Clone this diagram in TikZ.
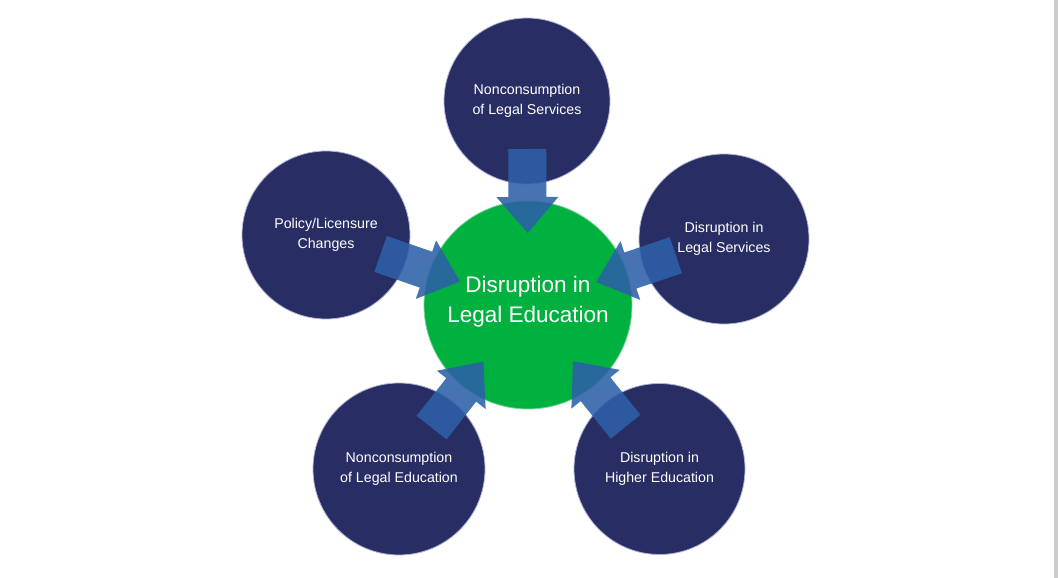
\documentclass[tikz,border=0pt]{standalone}
\usepackage{fontspec}
\setmainfont{Liberation Sans}
\usetikzlibrary{calc}
\definecolor{navy}{RGB}{40,46,100}
\definecolor{navyedge}{RGB}{175,180,215}
\definecolor{cgreen}{RGB}{0,177,64}
\definecolor{greenedge}{RGB}{120,212,150}
\definecolor{arrowblue}{RGB}{45,96,168}
\definecolor{rulegray}{RGB}{204,204,204}
\newcommand\blockarrow[2]{%
  \fill[blockfill]
    ($(#2.center)!156pt!(#1.center)!19pt!90:(#1.center)$) --
    ($(#2.center)!108pt!(#1.center)!19pt!90:(#1.center)$) --
    ($(#2.center)!108pt!(#1.center)!31pt!90:(#1.center)$) --
    ($(#2.center)!72pt!(#1.center)$) --
    ($(#2.center)!108pt!(#1.center)!31pt!-90:(#1.center)$) --
    ($(#2.center)!108pt!(#1.center)!19pt!-90:(#1.center)$) --
    ($(#2.center)!156pt!(#1.center)!19pt!-90:(#1.center)$) -- cycle;}
\begin{document}
\begin{tikzpicture}[x=1pt,y=1pt,
  outer/.style={circle, fill=navy, draw=navyedge, line width=0.8pt,
    minimum size=#1, inner sep=0pt, text=white,
    font=\fontsize{14.2}{19.5}\selectfont, align=center},
  outer/.default=170pt,
  hub/.style={circle, fill=cgreen, draw=greenedge, line width=0.8pt,
    minimum size=208pt, inner sep=0pt},
  hubtext/.style={text=white, font=\fontsize{22.5}{30}\selectfont, align=center},
  blockfill/.style={fill=arrowblue, fill opacity=0.88}]
\useasboundingbox (0,0) rectangle (1058,578);
\fill[white] (0,0) rectangle (1058,578);
\fill[rulegray] (1054,0) rectangle (1058,578);
\node[outer=166pt] (top) at (527,477) {Nonconsumption\\of Legal Services};
\node[outer=170pt] (right) at (724,339) {Disruption in\\Legal Services};
\node[outer=168pt] (left) at (326,343) {Policy/Licensure\\Changes};
\node[outer=172pt] (bl) at (399,109) {Nonconsumption\\of Legal Education};
\node[outer=171pt] (br) at (659.5,109) {Disruption in\\Higher Education};
\node[hub] (hub) at (528,273) {};
\blockarrow{top}{hub}
\blockarrow{right}{hub}
\blockarrow{left}{hub}
\blockarrow{bl}{hub}
\blockarrow{br}{hub}
\node[hubtext] (hublabel) at (528,276) {Disruption in\\Legal Education};
\end{tikzpicture}
\end{document}
